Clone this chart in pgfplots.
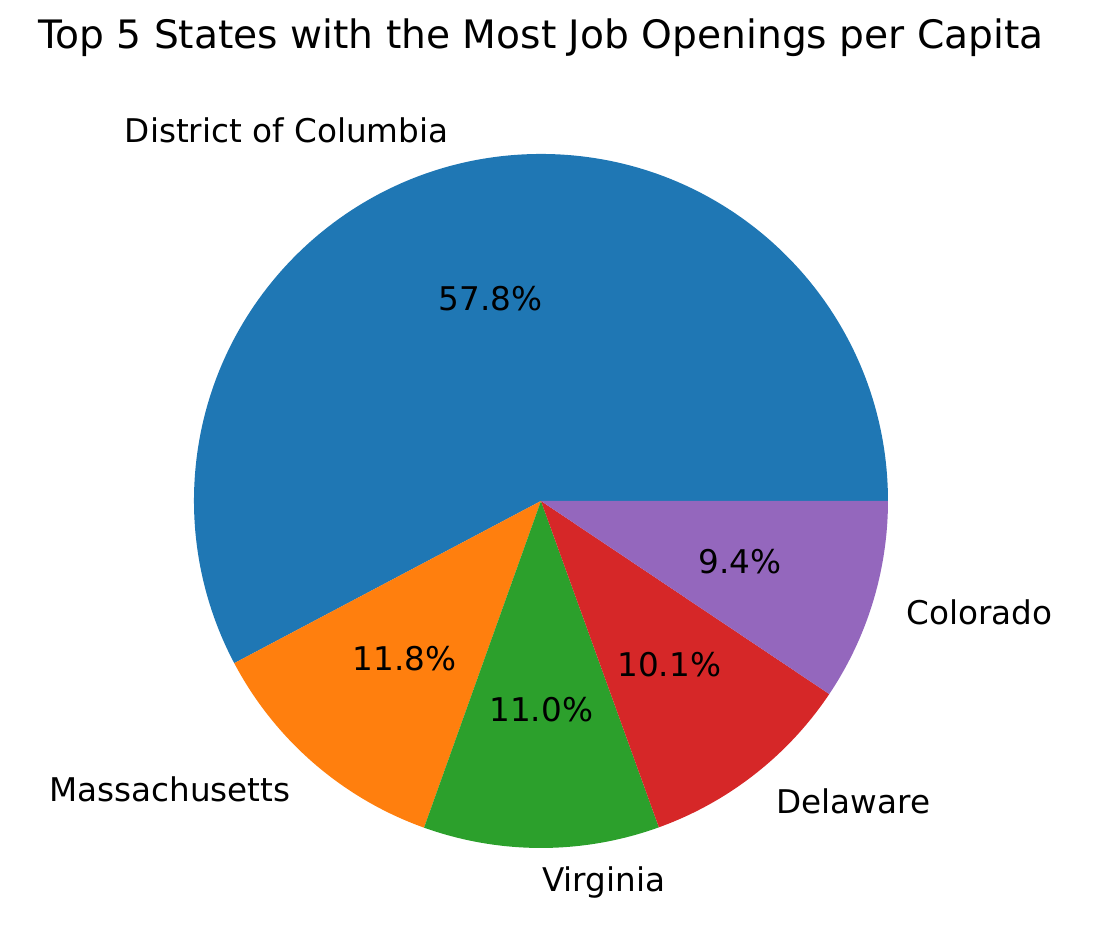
\documentclass[border=0pt]{standalone}
\usepackage{fontspec}
\setmainfont{DejaVu Sans}
\usepackage{pgfplots}
\pgfplotsset{compat=1.18}
\definecolor{c1}{HTML}{1F77B4}
\definecolor{c2}{HTML}{FF7F0E}
\definecolor{c3}{HTML}{2CA02C}
\definecolor{c4}{HTML}{D62728}
\definecolor{c5}{HTML}{9467BD}
\begin{document}
\begin{tikzpicture}
\fontsize{11.75}{14}\selectfont
% values (percent)
\def\vA{57.8}\def\vB{11.8}\def\vC{11.0}\def\vD{10.1}\def\vE{9.4}
\pgfmathsetmacro{\tot}{\vA+\vB+\vC+\vD+\vE}
\pgfmathsetmacro{\aA}{0}
\pgfmathsetmacro{\aB}{\aA+\vA/\tot*360}
\pgfmathsetmacro{\aC}{\aB+\vB/\tot*360}
\pgfmathsetmacro{\aD}{\aC+\vC/\tot*360}
\pgfmathsetmacro{\aE}{\aD+\vD/\tot*360}
\pgfmathsetmacro{\aF}{360}
\pgfmathsetmacro{\mA}{(\aA+\aB)/2}
\pgfmathsetmacro{\mB}{(\aB+\aC)/2}
\pgfmathsetmacro{\mC}{(\aC+\aD)/2}
\pgfmathsetmacro{\mD}{(\aD+\aE)/2}
\pgfmathsetmacro{\mE}{(\aE+\aF)/2}
\begin{axis}[x=124.92pt,y=124.92pt,
  xmin=-1.559,xmax=1.597,ymin=-1.222,ymax=1.444,
  hide axis, clip=false, anchor=south west, at={(0,0)}]
\fill[c1] (axis cs:0,0) -- (axis cs:{cos(\aA)},{sin(\aA)}) arc[start angle=\aA, end angle=\aB, radius=124.92pt] -- cycle;
\fill[c2] (axis cs:0,0) -- (axis cs:{cos(\aB)},{sin(\aB)}) arc[start angle=\aB, end angle=\aC, radius=124.92pt] -- cycle;
\fill[c3] (axis cs:0,0) -- (axis cs:{cos(\aC)},{sin(\aC)}) arc[start angle=\aC, end angle=\aD, radius=124.92pt] -- cycle;
\fill[c4] (axis cs:0,0) -- (axis cs:{cos(\aD)},{sin(\aD)}) arc[start angle=\aD, end angle=\aE, radius=124.92pt] -- cycle;
\fill[c5] (axis cs:0,0) -- (axis cs:{cos(\aE)},{sin(\aE)}) arc[start angle=\aE, end angle=\aF, radius=124.92pt] -- cycle;
% labels
\node[anchor=east,inner sep=0pt,text=black] at (axis cs:{1.1*cos(\mA)},{1.1*sin(\mA)}) {District of Columbia};
\node[anchor=east,inner sep=0pt,text=black] at (axis cs:{1.1*cos(\mB)},{1.1*sin(\mB)}) {Massachusetts};
\node[anchor=west,inner sep=0pt,text=black] at (axis cs:{1.1*cos(\mC)},{1.1*sin(\mC)}) {Virginia};
\node[anchor=west,inner sep=0pt,text=black] at (axis cs:{1.1*cos(\mD)},{1.1*sin(\mD)}) {Delaware};
\node[anchor=west,inner sep=0pt,text=black] at (axis cs:{1.1*cos(\mE)},{1.1*sin(\mE)}) {Colorado};
% percentages
\node[inner sep=0pt,text=black] at (axis cs:{0.6*cos(\mA)},{0.6*sin(\mA)}) {57.8\%};
\node[inner sep=0pt,text=black] at (axis cs:{0.6*cos(\mB)},{0.6*sin(\mB)}) {11.8\%};
\node[inner sep=0pt,text=black] at (axis cs:{0.6*cos(\mC)},{0.6*sin(\mC)}) {11.0\%};
\node[inner sep=0pt,text=black] at (axis cs:{0.6*cos(\mD)},{0.6*sin(\mD)}) {10.1\%};
\node[inner sep=0pt,text=black] at (axis cs:{0.6*cos(\mE)},{0.6*sin(\mE)}) {9.4\%};
% title
\node[inner sep=0pt,text=black,font=\fontsize{14.1}{17}\selectfont] at (axis cs:0,1.334) {Top 5 States with the Most Job Openings per Capita};
\end{axis}
\pgfresetboundingbox
\useasboundingbox (0,0) rectangle (394.2pt,333pt);
\end{tikzpicture}
\end{document}
